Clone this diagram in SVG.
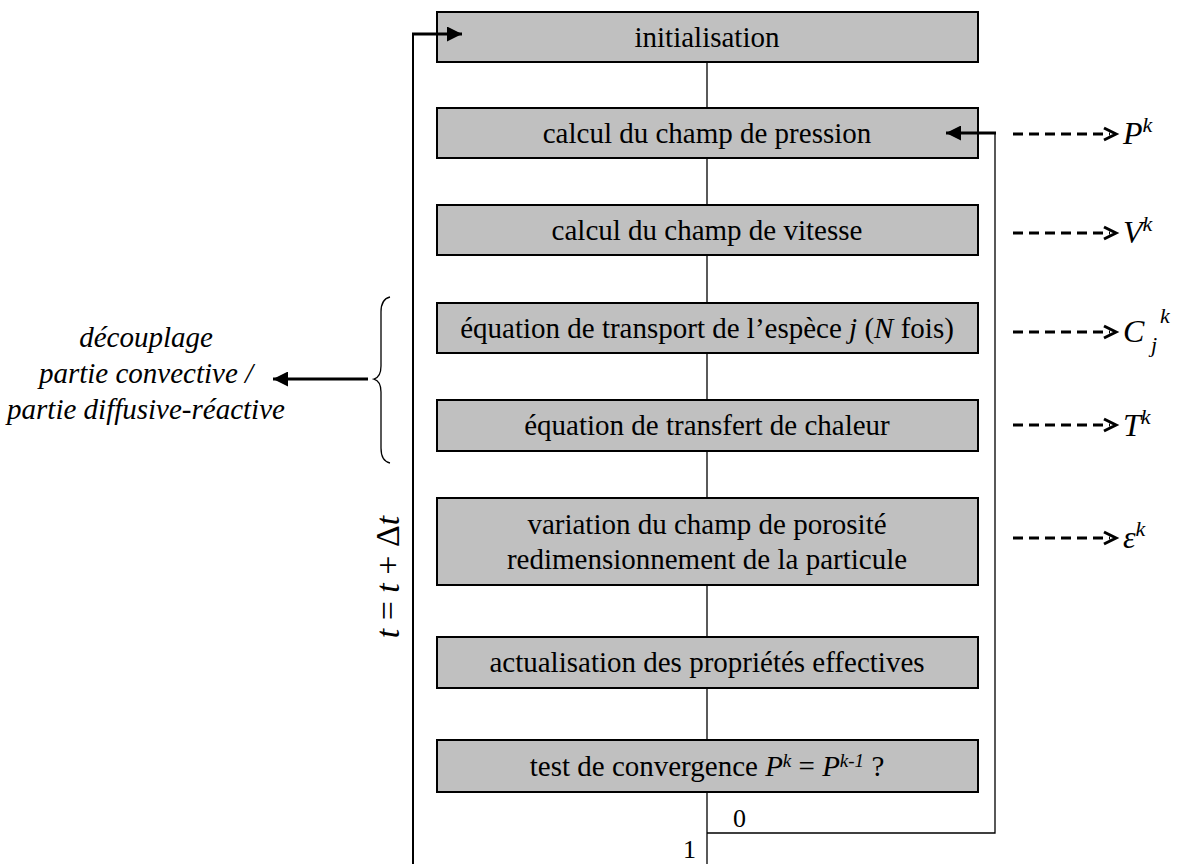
<svg xmlns="http://www.w3.org/2000/svg" width="1181" height="864" viewBox="0 0 1181 864">
<style>
.box{fill:#c0c0c0;stroke:#000;stroke-width:2}
.t{font-family:"Liberation Serif","Tinos","Times New Roman","DejaVu Serif",serif;font-size:29px;fill:#000;text-anchor:middle}
.i{font-style:italic}
.ln{stroke:#000;stroke-width:1.3;fill:none}
.thick{stroke:#000;stroke-width:3;fill:none}
.dash{stroke:#000;stroke-width:3;fill:none;stroke-dasharray:10 6}
.chev{stroke:#000;stroke-width:3;fill:none;stroke-linejoin:miter}
.lab{font-family:"Liberation Serif","Tinos","Times New Roman","DejaVu Serif",serif;font-style:italic;fill:#000}
</style>
<defs>
<marker id="ah" viewBox="0 0 10 10" refX="10" refY="5" markerWidth="5" markerHeight="5" orient="auto" markerUnits="strokeWidth">
<path d="M0,0 L10,5 L0,10 z" fill="#000"/>
</marker>
</defs>
<g id="n1"><rect class="box" x="437" y="12" width="541" height="50"/><text class="t" x="707" y="47">initialisation</text></g>
<g id="n2"><rect class="box" x="437" y="108" width="541" height="50"/><text class="t" x="707" y="143">calcul du champ de pression</text></g>
<g id="n3"><rect class="box" x="437" y="205" width="541" height="50"/><text class="t" x="707" y="240">calcul du champ de vitesse</text></g>
<g id="n4"><rect class="box" x="437" y="303" width="541" height="50"/><text class="t" x="707" y="338">équation de transport de l’espèce <tspan class="i">j</tspan> (<tspan class="i">N</tspan> fois)</text></g>
<g id="n5"><rect class="box" x="437" y="400" width="541" height="51"/><text class="t" x="707" y="435">équation de transfert de chaleur</text></g>
<g id="n6"><rect class="box" x="437" y="498" width="541" height="87"/><text class="t" x="707" y="534">variation du champ de porosité</text><text class="t" x="707" y="569">redimensionnement de la particule</text></g>
<g id="n7"><rect class="box" x="437" y="637" width="541" height="51"/><text class="t" x="707" y="672">actualisation des propriétés effectives</text></g>
<g id="n8"><rect class="box" x="437" y="740" width="541" height="52"/><text class="t" x="707" y="776">test de convergence <tspan class="i">P</tspan><tspan class="i" font-size="19" dy="-9">k</tspan><tspan dy="9"> = </tspan><tspan class="i">P</tspan><tspan class="i" font-size="19" dy="-9">k-1</tspan><tspan dy="9"> ?</tspan></text></g>
<g id="connectors">
<line class="ln" x1="707" y1="62" x2="707" y2="108"/>
<line class="ln" x1="707" y1="158" x2="707" y2="205"/>
<line class="ln" x1="707" y1="255" x2="707" y2="303"/>
<line class="ln" x1="707" y1="353" x2="707" y2="400"/>
<line class="ln" x1="707" y1="451" x2="707" y2="498"/>
<line class="ln" x1="707" y1="585" x2="707" y2="637"/>
<line class="ln" x1="707" y1="688" x2="707" y2="740"/>
<line class="ln" x1="707" y1="792" x2="707" y2="864"/>
<polyline class="ln" points="707,833 995,833 995,133"/>
<line class="thick" x1="996" y1="133" x2="946" y2="133" marker-end="url(#ah)"/>
<line class="ln" x1="413" y1="864" x2="413" y2="34" style="stroke-width:2"/>
<line class="thick" x1="412" y1="34" x2="462" y2="34" marker-end="url(#ah)"/>
<line class="thick" x1="368" y1="379" x2="273" y2="379" marker-end="url(#ah)"/>
<path class="ln" d="M390,297 Q381,299 381,312 L381,366 Q381,377 374,379 Q381,381 381,392 L381,448 Q381,461 390,463"/>
<line class="dash" x1="1013" y1="134" x2="1110" y2="134"/>
<polyline class="chev" points="1104,128 1116,134 1104,140"/>
<line class="dash" x1="1013" y1="233" x2="1110" y2="233"/>
<polyline class="chev" points="1104,227 1116,233 1104,239"/>
<line class="dash" x1="1013" y1="332" x2="1110" y2="332"/>
<polyline class="chev" points="1104,326 1116,332 1104,338"/>
<line class="dash" x1="1013" y1="425" x2="1110" y2="425"/>
<polyline class="chev" points="1104,419 1116,425 1104,431"/>
<line class="dash" x1="1013" y1="538" x2="1110" y2="538"/>
<polyline class="chev" points="1104,532 1116,538 1104,544"/>
</g>
<g id="labels">
<text class="t" x="733" y="827" style="text-anchor:start;font-size:26px">0</text>
<text class="t" x="683" y="858" style="text-anchor:start;font-size:26px">1</text>
<text class="t" transform="translate(399,577) rotate(-90)" style="font-size:34px"><tspan class="i">t</tspan> = <tspan class="i">t</tspan> + Δ<tspan class="i">t</tspan></text>
<text class="t i" x="146" y="347">découplage</text>
<text class="t i" x="146" y="383">partie convective /</text>
<text class="t i" x="146" y="419">partie diffusive-réactive</text>
<text class="lab" x="1123" y="144" font-size="32">P<tspan font-size="22" dy="-12">k</tspan></text>
<text class="lab" x="1123" y="243" font-size="32">V<tspan font-size="22" dy="-12">k</tspan></text>
<text class="lab" x="1123" y="342" font-size="32">C</text>
<text class="lab" x="1151" y="352" font-size="22">j</text>
<text class="lab" x="1160" y="323" font-size="22">k</text>
<text class="lab" x="1123" y="436" font-size="32">T<tspan font-size="22" dy="-12">k</tspan></text>
<text class="lab" x="1123" y="548" font-size="32">ε<tspan font-size="22" dy="-12">k</tspan></text>
</g>
</svg>
